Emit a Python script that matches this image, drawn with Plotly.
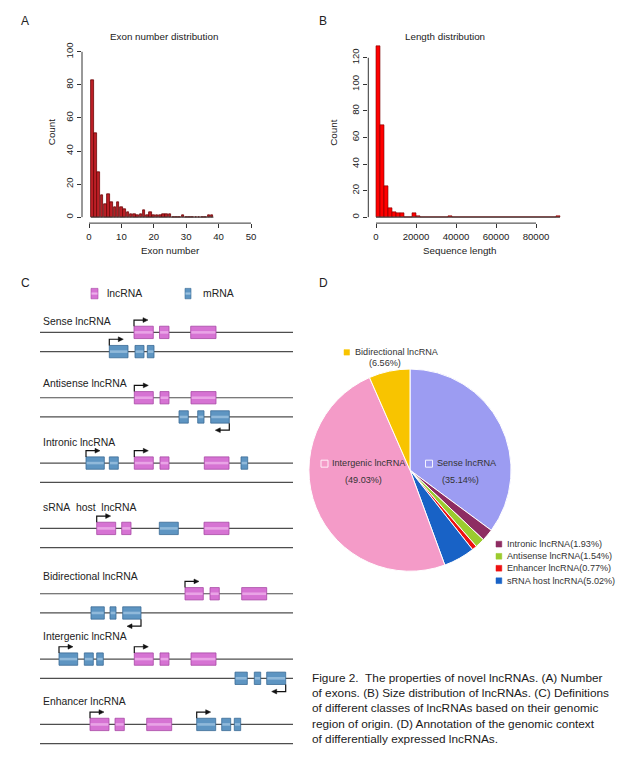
import plotly.graph_objects as go

W, H = 630, 757
FONT = "Liberation Sans, Arial, Helvetica, sans-serif"
TXT = "#222222"

# ---------------- data ----------------
# Panel A: exon number distribution
exon_number = [1, 2, 3, 4, 5, 6, 7, 8, 9, 10, 11, 12, 13, 14, 15, 16, 17, 18, 19,
               20, 21, 22, 23, 24, 25, 26, 27, 28, 29, 30, 31, 32, 33, 34, 35, 36, 37, 38]
exon_count = [83, 51, 27, 13, 8, 14, 9, 6, 9, 6, 5, 3, 2, 2, 1, 2, 4, 1, 3,
              1, 1, 1, 2, 2, 2, 0, 0, 0, 1, 0, 0, 0, 0, 0, 0, 0, 1, 1]
exon_ticks = [0, 10, 20, 30, 40, 50]
count_ticks_a = [0, 20, 40, 60, 80, 100]

# Panel B: length distribution (bins of 2000 nt)
length_bin_start = [0, 2000, 4000, 6000, 8000, 10000, 12000, 14000, 16000, 18000,
                    20000, 22000, 24000, 26000, 28000, 30000, 32000, 34000, 36000, 38000,
                    40000, 42000, 44000, 46000, 48000, 50000, 52000, 54000, 56000, 58000,
                    60000, 62000, 64000, 66000, 68000, 70000, 72000, 74000, 76000, 78000,
                    80000, 82000, 84000, 86000, 88000, 90000]
length_count = [129, 69, 23, 7, 4, 3, 3, 0, 0, 3,
                1, 0, 0, 0, 0, 0, 0, 0, 1, 0,
                0, 0, 0, 0, 0, 0, 0, 0, 0, 0,
                0, 0, 0, 0, 0, 0, 0, 0, 0, 0,
                0, 0, 0, 0, 0, 1]
LEN_BIN = 2000
length_ticks = [0, 20000, 40000, 60000, 80000]
count_ticks_b = [0, 20, 40, 60, 80, 100, 120]

# Panel D: pie
pie_labels = ["Sense lncRNA", "Intronic lncRNA", "Antisense lncRNA", "Enhancer lncRNA",
              "sRNA host lncRNA", "Intergenic lncRNA", "Bidirectional lncRNA"]
pie_values = [35.14, 1.93, 1.54, 0.77, 5.02, 49.03, 6.56]
pie_colors = ["#9C9CF2", "#8E2D62", "#9BCB2E", "#EE1111", "#1862C6", "#F49BC8", "#F8C400"]

# Panel C: schematic (gene coordinates, type l=lncRNA / m=mRNA)
c_group_names = ["Sense lncRNA", "Antisense lncRNA", "Intronic lncRNA",
                 "sRNA\u00a0\u00a0host\u00a0\u00a0lncRNA", "Bidirectional lncRNA",
                 "Intergenic lncRNA", "Enhancer lncRNA"]
exon_group = [0, 0, 0, 0, 0, 0,
              1, 1, 1, 1, 1, 1,
              2, 2, 2, 2, 2, 2,
              3, 3, 3, 3,
              4, 4, 4, 4, 4, 4,
              5, 5, 5, 5, 5, 5, 5, 5, 5,
              6, 6, 6, 6, 6, 6]
exon_strand = [0, 0, 0, 1, 1, 1,
               0, 0, 0, 1, 1, 1,
               0, 0, 0, 0, 0, 0,
               0, 0, 0, 0,
               0, 0, 0, 1, 1, 1,
               0, 0, 0, 0, 0, 0, 1, 1, 1,
               0, 0, 0, 0, 0, 0]
exon_start = [134, 159.5, 190.7, 109.3, 135, 147.3,
              134.3, 160, 191, 179, 197.7, 210.7,
              86, 109.3, 134.3, 160, 204.3, 241,
              96.7, 121.7, 159.3, 204,
              185, 210, 241.7, 91, 110, 122.7,
              59, 84.3, 96.7, 134.3, 160, 191, 235, 254.3, 266.7,
              90, 115, 146.7, 196.7, 221.7, 234.3]
exon_end = [153.3, 169, 216, 128, 144, 154,
            153.3, 169, 216, 188.3, 204, 229.3,
            104.3, 118.3, 153.3, 169, 229, 247.7,
            115.7, 131, 178.3, 229,
            203.3, 219.3, 266.7, 104.3, 116, 141,
            77.7, 93.3, 103.3, 153.3, 169, 216, 247.3, 260.7, 285.7,
            109, 124.3, 171.7, 215.7, 230.7, 240.7]
exon_type = ["l", "l", "l", "m", "m", "m",
             "l", "l", "l", "m", "m", "m",
             "m", "m", "l", "l", "l", "m",
             "l", "l", "m", "l",
             "l", "l", "l", "m", "m", "m",
             "m", "m", "m", "l", "l", "l", "m", "m", "m",
             "l", "l", "l", "m", "m", "m"]
exon_label = ["1", "2", "3", "1", "2", "3",
              "1", "2", "3", "3", "2", "1",
              "1", "2", "1", "2", "3", "3",
              "1", "2", "sRNA", "3",
              "1", "2", "3", "3", "2", "1",
              "1", "2", "3", "1", "2", "3", "3", "2", "1",
              "1", "2", "3", "1", "2", "3"]
tss_group = [0, 0, 1, 1, 2, 2, 3, 4, 4, 5, 5, 5, 6, 6]
tss_strand = [0, 1, 0, 1, 0, 0, 0, 0, 1, 0, 0, 1, 0, 0]
tss_pos = [134, 109.3, 134.3, 229.3, 86, 134.3, 96.7, 185, 141, 59, 134.3, 285.7, 90, 196.7]
tss_dir = ["f", "f", "f", "r", "f", "f", "f", "f", "r", "f", "f", "r", "f", "f"]
C_LINE_START, C_LINE_END = 40, 293

# ---------------- layout helpers ----------------
def px(x):
    return x / W

def py(y):
    return 1 - y / H

ROW0, GROUP_STEP, STRAND_STEP = 330.7, 65.6, 19.3
def row_y(g, s):
    return ROW0 + g * GROUP_STEP + s * STRAND_STEP

group_label_y = [320, 382.3, 441.7, 506.5, 575.7, 636, 701.7]
EXON_H = 6.2
col = {"l": ("#D673D3", "#A84AA6", "#EDB0EB"), "m": ("#5E95C2", "#3B6B96", "#9CC2E0")}

fig = go.Figure()
shapes = []
annos = []

def text(x, y, s, size=10, xanchor="left", yanchor="middle", color=TXT, angle=0):
    annos.append(dict(x=px(x), y=py(y), xref="paper", yref="paper", text=s, showarrow=False,
                      xanchor=xanchor, yanchor=yanchor, textangle=angle,
                      font=dict(family=FONT, size=size, color=color)))

# ---------------- Panel A ----------------
fig.add_trace(go.Bar(x=exon_number, y=exon_count, width=0.82,
                     marker=dict(color="#BC1F26", line=dict(color="#680606", width=0.8)),
                     xaxis="x", yaxis="y", hoverinfo="x+y"))
fig.add_trace(go.Scatter(x=[exon_number[0] - 0.41, exon_number[-1] + 0.41], y=[0, 0], mode="lines",
                         line=dict(color="#333333", width=1), xaxis="x", yaxis="y", hoverinfo="skip"))
shapes.append(dict(type="line", xref="x", yref="y domain", x0=exon_ticks[0], x1=exon_ticks[-1],
                   y0=0, y1=0, line=dict(color="#333333", width=1)))
shapes.append(dict(type="line", xref="x domain", yref="y", x0=0, x1=0,
                   y0=count_ticks_a[0], y1=count_ticks_a[-1], line=dict(color="#333333", width=1)))

# ---------------- Panel B ----------------
fig.add_trace(go.Bar(x=[s + LEN_BIN / 2 for s in length_bin_start], y=length_count, width=LEN_BIN,
                     marker=dict(color="#FF0000", line=dict(color="#7A0000", width=0.6)),
                     xaxis="x2", yaxis="y2", hoverinfo="x+y"))
fig.add_trace(go.Scatter(x=[length_bin_start[0], length_bin_start[-1] + LEN_BIN], y=[0, 0], mode="lines",
                         line=dict(color="#333333", width=1), xaxis="x2", yaxis="y2", hoverinfo="skip"))
shapes.append(dict(type="line", xref="x2", yref="y2 domain", x0=length_ticks[0], x1=length_ticks[-1],
                   y0=0, y1=0, line=dict(color="#333333", width=1)))
shapes.append(dict(type="line", xref="x2 domain", yref="y2", x0=0, x1=0,
                   y0=count_ticks_b[0], y1=count_ticks_b[-1], line=dict(color="#333333", width=1)))

# ---------------- Panel C ----------------
for g in range(len(c_group_names)):
    for s in (0, 1):
        y = row_y(g, s)
        shapes.append(dict(type="line", xref="x3", yref="y3", x0=C_LINE_START, x1=C_LINE_END, y0=y, y1=y,
                           line=dict(color="#4E4E4E", width=1.2), layer="below"))
    text(41, group_label_y[g], c_group_names[g], size=10.4)

lab_x, lab_y, lab_t, lab_s = [], [], [], []
for g, s, a, b, t, lb in zip(exon_group, exon_strand, exon_start, exon_end, exon_type, exon_label):
    y = row_y(g, s)
    fill, edge, light = col[t]
    shapes.append(dict(type="rect", xref="x3", yref="y3", x0=a, x1=b, y0=y - EXON_H, y1=y + EXON_H,
                       fillcolor=fill, line=dict(color=edge, width=0.8)))
    shapes.append(dict(type="rect", xref="x3", yref="y3", x0=a + 0.6, x1=b - 0.6, y0=y - 1.3, y1=y + 1.3,
                       fillcolor=light, line=dict(width=0), opacity=0.8))
    lab_x.append((a + b) / 2)
    lab_y.append(y)
    lab_t.append(lb)
    lab_s.append(5 if len(lb) > 1 else 6)
fig.add_trace(go.Scatter(x=lab_x, y=lab_y, text=lab_t, mode="text", xaxis="x3", yaxis="y3",
                         textfont=dict(family=FONT, size=lab_s, color="white"), hoverinfo="skip"))

for g, s, x, d in zip(tss_group, tss_strand, tss_pos, tss_dir):
    y = row_y(g, s)
    if d == "f":
        yt = y - 12.4
        path = f"M {x},{y - EXON_H} L {x},{yt} L {x + 10},{yt}"
        head = f"M {x + 9},{yt - 2.4} L {x + 14},{yt} L {x + 9},{yt + 2.4} Z"
    else:
        yt = y + 13.3
        path = f"M {x},{y + EXON_H} L {x},{yt} L {x - 10},{yt}"
        head = f"M {x - 9},{yt - 2.4} L {x - 14},{yt} L {x - 9},{yt + 2.4} Z"
    shapes.append(dict(type="path", xref="x3", yref="y3", path=path, line=dict(color="#111111", width=1.2)))
    shapes.append(dict(type="path", xref="x3", yref="y3", path=head, fillcolor="#111111",
                       line=dict(color="#111111", width=0.5)))

# Panel C legend
for x0, x1, t, name, tx in ((91, 98, "l", "lncRNA", 105), (185, 191, "m", "mRNA", 201.5)):
    fill, edge, light = col[t]
    shapes.append(dict(type="rect", xref="paper", yref="paper", x0=px(x0), x1=px(x1), y0=py(297), y1=py(286.5),
                       fillcolor=fill, line=dict(color=edge, width=0.6)))
    shapes.append(dict(type="rect", xref="paper", yref="paper", x0=px(x0 + 0.5), x1=px(x1 - 0.5),
                       y0=py(292.8), y1=py(290.6), fillcolor=light, line=dict(width=0)))
    text(tx, 291.7, name, size=10.4)

# ---------------- Panel D ----------------
PCX, PCY, PR = 410, 469, 101.5
fig.add_trace(go.Pie(values=pie_values, labels=pie_labels, sort=False, direction="clockwise", rotation=0,
                     textinfo="none", marker=dict(colors=pie_colors, line=dict(color="white", width=1)),
                     domain=dict(x=[px(PCX - PR), px(PCX + PR)], y=[py(PCY + PR), py(PCY - PR)]),
                     showlegend=False, hoverinfo="label+percent"))

def pct(i):
    return f"({pie_values[i]:.2f}%)"

def square(x0, y0, size, fill, line_col, lw=0.8):
    shapes.append(dict(type="rect", xref="paper", yref="paper", x0=px(x0), x1=px(x0 + size),
                       y0=py(y0 + size), y1=py(y0), fillcolor=fill, line=dict(color=line_col, width=lw)))

DT = "#333333"
PF = 9.1
# Sense
square(425.5, 459, 7, pie_colors[0], "#F4F4FF", 1)
text(435, 462.3, pie_labels[0], size=PF, color=DT)
text(460, 479, pct(0), size=PF, color=DT, xanchor="center")
# Intergenic
square(321, 459, 7, pie_colors[5], "#FFF0F8", 1)
text(329.5, 462.3, pie_labels[5], size=PF, color=DT)
text(363.5, 479, pct(5), size=PF, color=DT, xanchor="center")
# Bidirectional
square(344, 348, 5.5, pie_colors[6], pie_colors[6], 0.5)
text(353.3, 350.8, pie_labels[6], size=PF, color=DT)
text(385, 361.8, pct(6), size=PF, color=DT, xanchor="center")
# small-slice legend
for i, yy in zip((1, 2, 3, 4), (543.3, 555.5, 567.5, 580.0)):
    square(496, yy - 2.9, 5.8, pie_colors[i], pie_colors[i], 0.5)
    text(504.5, yy, f"{pie_labels[i]}{pct(i)}", size=PF, color=DT)

# ---------------- titles & labels ----------------
text(25, 18.3, "A", size=12, xanchor="center")
text(322.7, 18.3, "B", size=12, xanchor="center")
text(25, 280.7, "C", size=12, xanchor="center")
text(323.3, 280.7, "D", size=12, xanchor="center")
text(164, 34, "Exon number distribution", size=9.8, xanchor="center")
text(444.7, 34, "Length distribution", size=9.8, xanchor="center")
text(51.7, 130, "Count", size=9.8, xanchor="center", angle=-90)
text(333.3, 130, "Count", size=9.8, xanchor="center", angle=-90)
text(170, 248, "Exon number", size=9.8, xanchor="center")
text(460, 248, "Sequence length", size=9.8, xanchor="center")

caption = ["Figure 2.\u00a0\u00a0The properties of novel lncRNAs. (A) Number",
           "of exons. (B) Size distribution of lncRNAs. (C) Definitions",
           "of different classes of lncRNAs based on their genomic",
           "region of origin. (D) Annotation of the genomic context",
           "of differentially expressed lncRNAs."]
for k, line in enumerate(caption):
    text(310, 677.3 + k * 15.4, line, size=11.8, color="#1A1A1A")

axis_common = dict(showgrid=False, zeroline=False, showline=False, ticks="outside", ticklen=4,
                   tickwidth=1, tickcolor="#333333", tickfont=dict(family=FONT, size=9.6, color=TXT))

fig.update_layout(
    width=W, height=H, margin=dict(l=0, r=0, t=0, b=0),
    paper_bgcolor="white", plot_bgcolor="white", showlegend=False,
    bargap=0,
    xaxis=dict(domain=[px(82), px(258)], range=[-2.16, 52.16], tickvals=exon_ticks, anchor="y", **axis_common),
    yaxis=dict(domain=[py(221), py(42.4)], range=[-3.61, 103.98], tickvals=count_ticks_a, tickangle=-90,
               anchor="x", **axis_common),
    xaxis2=dict(domain=[px(368.3), px(567.4)], range=[-3850, 95700], tickvals=length_ticks,
                ticktext=[str(v) for v in length_ticks], anchor="y2", **axis_common),
    yaxis2=dict(domain=[py(221), py(36.3)], range=[-4.5, 134], tickvals=count_ticks_b, tickangle=-90,
                anchor="x2", **axis_common),
    xaxis3=dict(domain=[0, px(315)], range=[0, 315], visible=False, anchor="y3"),
    yaxis3=dict(domain=[0, py(270)], range=[757, 270], visible=False, anchor="x3"),
    shapes=shapes, annotations=annos,
)

fig.write_html("out.html", config={"displayModeBar": False},
               post_script="document.body.style.margin='0';document.body.style.padding='0';")
